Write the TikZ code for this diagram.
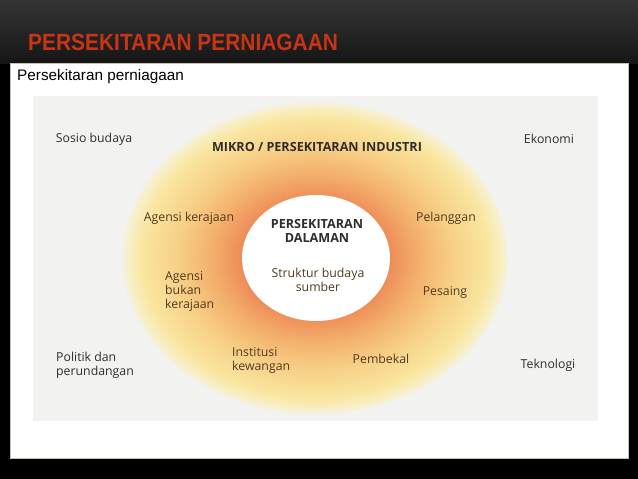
\documentclass[tikz,border=0pt]{standalone}
\usepackage{fontspec}
\setmainfont{Liberation Sans}
\newfontfamily\diag{Open Sans}
\usetikzlibrary{positioning}
\definecolor{titlecol}{RGB}{200,52,22}
\definecolor{topbg}{RGB}{52,52,52}
\definecolor{midbg}{RGB}{22,22,22}
\definecolor{scanbg}{RGB}{242,242,240}
\definecolor{ringA}{RGB}{238,140,88}
\definecolor{ringB}{RGB}{243,176,108}
\definecolor{ringC}{RGB}{247,208,135}
\definecolor{ringD}{RGB}{249,230,160}
\definecolor{ringE}{RGB}{247,239,200}
\definecolor{macrocol}{RGB}{48,44,46}
\definecolor{microcol}{RGB}{80,58,30}
\definecolor{paneledge}{RGB}{200,192,170}
\pgfdeclareradialshading{ringshade}{\pgfpoint{0bp}{0bp}}{%
  color(0bp)=(ringA); color(9.6bp)=(ringA); color(13.5bp)=(ringB);
  color(18bp)=(ringC); color(22.5bp)=(ringD); color(24.3bp)=(ringE);
  color(25.3bp)=(scanbg); color(50bp)=(scanbg)}
\tikzset{
  lbl/.style={font=\diag\fontsize{12.3}{14}\selectfont, inner sep=0pt},
  macro/.style={lbl, text=macrocol},
  micro/.style={lbl, text=microcol},
  core/.style={font=\diag\bfseries\fontsize{12.6}{13.5}\selectfont, inner sep=0pt, text=macrocol, align=center},
}
\begin{document}
\begin{tikzpicture}[x=1pt,y=-1pt]
\useasboundingbox (0,0) rectangle (638,479);
% background
\fill[black] (0,0) rectangle (638,479);
\shade[top color=topbg, bottom color=midbg] (0,0) rectangle (638,63);
% title
\node[anchor=base west, inner sep=0pt, text=titlecol, font=\bfseries\fontsize{23.5}{26}\selectfont] (title) at (28,50) {\scalebox{0.89}[1]{PERSEKITARAN PERNIAGAAN}};
% white panel
\fill[white, draw=paneledge, line width=0.6pt] (10,63) rectangle (628,458);
\node[anchor=base west, inner sep=0pt, font=\fontsize{15.3}{18}\selectfont] (sub) at (17,80) {Persekitaran perniagaan};
% scan area
\fill[scanbg] (33,96) rectangle (598,421);
\begin{scope}
  \clip (33,96) rectangle (598,421);
  \shade[shading=ringshade] (315,258) ellipse [x radius=193, y radius=156];
\end{scope}
\fill[white] (316,258) ellipse [x radius=74, y radius=63];
% labels
\node[macro] (sosio) at (94,139) {Sosio budaya};
\node[core] (mikro) at (317,147) {MIKRO / PERSEKITARAN INDUSTRI};
\node[macro] (ekonomi) at (549,139) {Ekonomi};
\node[micro] (agensi) at (189,218) {Agensi kerajaan};
\node[core] (dalaman) at (317,231) {PERSEKITARAN\\DALAMAN};
\node[micro] (pelanggan) at (446,218) {Pelanggan};
\node[micro, align=center] (struktur) at (318,280) {Struktur budaya\\sumber};
\node[micro, align=left, anchor=west] (bukan) at (165,291) {Agensi\\bukan\\kerajaan};
\node[micro] (pesaing) at (445,292) {Pesaing};
\node[macro, align=left, anchor=west] (politik) at (56,365) {Politik dan\\perundangan};
\node[micro, align=left, anchor=west] (institusi) at (232,360) {Institusi\\kewangan};
\node[micro] (pembekal) at (381,359) {Pembekal};
\node[macro] (teknologi) at (548,365) {Teknologi};
\end{tikzpicture}
\end{document}
